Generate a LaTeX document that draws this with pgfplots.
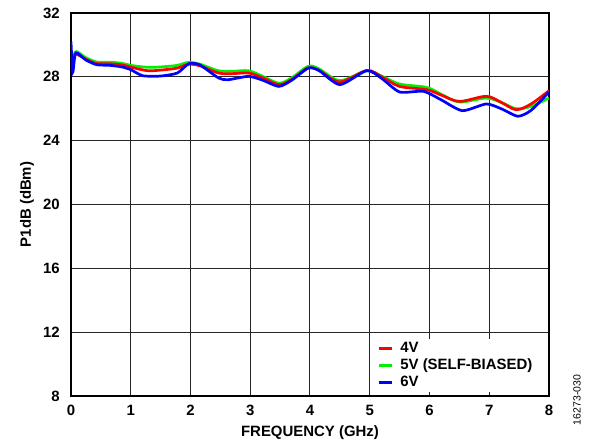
\documentclass[border=0pt]{standalone}
\usepackage{pgfplots}
\pgfplotsset{compat=1.18}
\usepackage{fontspec}
\setmainfont{Liberation Sans}
\definecolor{cred}{RGB}{255,0,0}
\definecolor{cgreen}{RGB}{0,240,0}
\definecolor{cblue}{RGB}{0,0,255}
\begin{document}
\begin{tikzpicture}
\useasboundingbox (-71bp,-52bp) rectangle (519bp,396bp);
\begin{axis}[
  at={(0,0)}, anchor=south west,
  width=478bp, height=383bp, scale only axis,
  xmin=0, xmax=8, ymin=8, ymax=32,
  xtick={0,1,...,8}, ytick={8,12,...,32},
  grid=major, major grid style={line width=1bp, color=black!85},
  axis line style={line width=1.3bp, black},
  major tick length=0pt,
  /pgf/number format/assume math mode=true,
  tick label style={font=\fontsize{15}{18}\selectfont\bfseries, inner sep=0pt},
  yticklabel style={xshift=-11bp},
  xticklabel style={yshift=-9bp},
  xlabel={FREQUENCY (GHz)}, ylabel={P1dB (dBm)},
  label style={font=\fontsize{15}{18}\selectfont\bfseries},
  xlabel style={at={(axis description cs:0.5,-0.096)}, anchor=center},
  ylabel style={at={(axis description cs:-0.092,0.5)}, anchor=center},
  legend cell align=left,
  legend image code/.code={\draw[#1, line width=3bp] (0bp,0bp) -- (13bp,0bp);},
  legend style={at={(axis cs:5.04,11.57)}, anchor=north west, draw=none, fill=white,
    font=\fontsize{15}{17}\selectfont\bfseries, inner xsep=5bp, inner ysep=1bp,
    nodes={inner xsep=0bp, inner ysep=1.5bp, text height=11bp, text depth=3bp},
    /tikz/every odd column/.append style={column sep=7bp}},
]
\addlegendimage{cred}\addlegendentry{4V}
\addlegendimage{cgreen}\addlegendentry{5V (SELF-BIASED)}
\addlegendimage{cblue}\addlegendentry{6V}

\addplot[cgreen, line width=2.7bp, smooth, tension=0.5, forget plot] coordinates {
(0.03,29.2) (0.09,29.58) (0.25,29.2) (0.43,28.93) (0.65,28.92) (0.85,28.85) (1.0,28.72)
(1.27,28.6) (1.5,28.62) (1.78,28.72) (1.96,28.9) (2.15,28.8) (2.47,28.38) (2.7,28.35)
(2.97,28.38) (3.2,28.05) (3.48,27.6) (3.7,27.95) (3.97,28.66) (4.15,28.5) (4.5,27.76)
(4.95,28.39) (5.2,28.05) (5.5,27.55) (5.95,27.34) (6.2,26.9) (6.5,26.42) (6.95,26.67)
(7.2,26.4) (7.45,26.0) (7.7,26.15) (8.0,26.67)};
\addplot[cred, line width=2.7bp, smooth, tension=0.5, forget plot] coordinates {
(0.02,29.0) (0.08,29.42) (0.25,29.1) (0.43,28.83) (0.65,28.82) (0.85,28.75) (1.0,28.61)
(1.27,28.39) (1.5,28.42) (1.78,28.55) (1.96,28.78) (2.15,28.7) (2.47,28.24) (2.7,28.2)
(2.97,28.24) (3.2,27.95) (3.48,27.51) (3.7,27.85) (3.97,28.55) (4.15,28.4) (4.5,27.68)
(4.95,28.39) (5.2,28.0) (5.5,27.4) (5.95,27.2) (6.2,26.85) (6.5,26.46) (6.95,26.78)
(7.2,26.4) (7.45,25.94) (7.7,26.3) (8.0,27.13)};
\addplot[cblue, line width=2.7bp, smooth, tension=0.4, forget plot] coordinates {
(0.0,30.2) (0.03,28.3) (0.08,29.5) (0.25,29.05) (0.43,28.76) (0.65,28.72) (0.85,28.62)
(1.0,28.45) (1.2,28.07) (1.5,28.05) (1.78,28.24) (1.97,28.82) (2.15,28.76) (2.47,27.93)
(2.63,27.82) (2.97,28.03) (3.2,27.8) (3.48,27.4) (3.7,27.8) (3.97,28.55) (4.15,28.4)
(4.5,27.51) (4.95,28.39) (5.2,27.9) (5.5,27.05) (5.9,27.09) (6.2,26.55) (6.55,25.88)
(6.95,26.3) (7.2,26.0) (7.48,25.53) (7.7,25.9) (8.0,27.05)};
\end{axis}
\node[rotate=90, font=\fontsize{10.5}{12}\selectfont] at (506bp,-4bp) {16273-030};
\end{tikzpicture}
\end{document}
